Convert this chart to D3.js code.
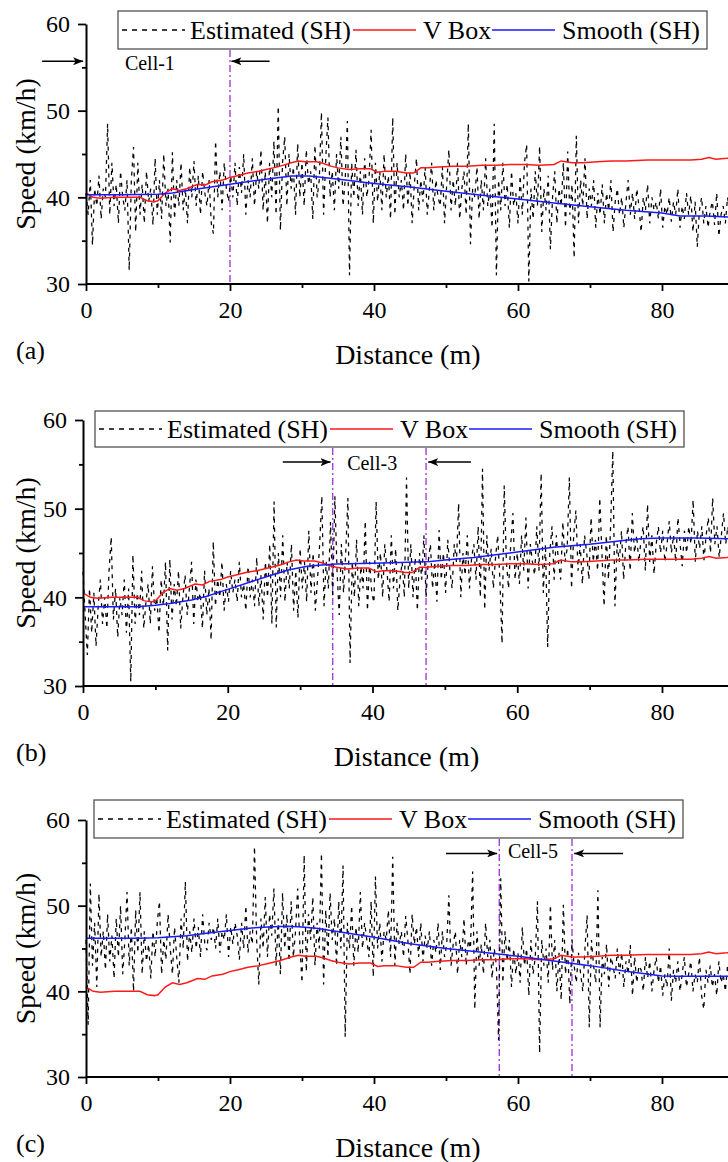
<!DOCTYPE html>
<html><head><meta charset="utf-8">
<script src="https://cdn.jsdelivr.net/npm/d3@7"></script>
<style>
body{margin:0;background:#fff}
svg{display:block}
text{font-family:"Liberation Serif","Times New Roman",serif;fill:#000}
</style>
</head><body>
<svg id="chart" width="728" height="1162"></svg>
<script>
// ---------------- DATA ----------------
const xTicks = [0, 20, 40, 60, 80];
const xMinorTicks = [10, 30, 50, 70, 90];
const yTicks = [30, 40, 50, 60];
const yMinorTicks = [35, 45, 55];
const legendLabels = ["Estimated (SH)", "V Box", "Smooth (SH)"];
const panelLabels = ["(a)", "(b)", "(c)"];
const cellLabels = ["Cell-1", "Cell-3", "Cell-5"];
const xTitle = "Distance (m)";
const yTitle = "Speed (km/h)";

// Estimated (SH) speed samples, every 0.3 m
const estStep = 0.3;
const estimatedA = [
40.5,38,42,34.5,41,39,42.5,37.5,41,40,
48.5,38,44,39,41.5,37,43,40,38.5,42,
31.6,42,45.8,36,44,38,41.5,37,43,39.5,
41,36.8,44.5,38,42,37.5,45,39,41,34.8,
45.2,37.5,42,39,44,38.5,41,37,43.5,40,
44.2,39,42.5,38,43,40.5,39,42,37,35.8,
46.5,40,43,38.5,44,41,39.5,42.5,40,44,
39,43.5,40.5,45,38,42,40,44.5,39,43,
41,45.5,38.5,43,37,44,40,46.5,38,50.5,
36.2,44,47,39,45,41,43.5,38,46.2,40,
44,39,45.5,41.5,43,37.5,46,40,42,49.8,
38,44.5,49.2,40,43,38.5,45,41,47,39,
42,48.8,31.0,44,40,45.5,39,43,38,44.5,
40,42,47.8,37,44,39.5,43,38.5,45,40,
42.5,37.5,49.2,38,44,40,42,38.5,45,39,
43,37,41.5,44.5,38.5,42,39.5,43.5,38,41,
44,38.5,42,40,39,43.5,37,41.5,45.5,38.5,
42,39,44,37.5,41,43,38,48.5,34.6,41,
40,43.5,37.5,42,38.5,44.5,39,41,36.5,48.5,
31,42,38.5,44,39,41.5,36.5,43,39,40.5,
37,42.5,38,44,46.1,30.3,41,37.5,43,39,
45.9,36,41,38.5,42.5,34,40,43,37,41,
39,44,36.5,45.3,38,41.5,33,47.1,37,42,
39,44.5,37.5,41,39,42,36.5,40.5,38,41.5,
37,40.5,38.5,42,36,39.5,41,38,40,36.5,
39.5,42,38,40.5,37.5,41,39,36,40,38.5,
41.5,37,40,38.5,39.5,37.5,41,36.5,39,38,
40,37.2,39.5,38,41,36.5,39,37.5,40.5,38,
40.2,36,39.5,34.3,38.5,40,37,39,36.5,38.5,
39.5,36.8,40.5,35.5,38,39,37,40,38.5,37
];
const estimatedB = [
42.9,38,33.5,41,36,40.5,34.5,39,42,37,
40,36.5,43,46.8,37.5,41,35.5,40,38,42,
36,41,30.5,44.8,37,40.5,38,43,36.5,39.5,
41.5,37,43.5,38.5,40,36,42,39,44,34,
44.3,37.5,41.5,39,43,36.5,40,42.5,38,41,
44,37,42,39.5,40.5,36.5,43,38,41,35.2,
46.3,39,42,40,44,38.5,41.5,39.5,43,40.5,
42,39.5,44,40,41.5,38.5,43.5,40,42,39,
44.5,39,42.5,37.5,44,40,46,37,50.8,36.6,
45,40,47,39.5,44,41,46,38.5,43,37.7,
45.5,41,44,39.5,47.5,40.5,45,38.5,42,46,
51.4,39,44,41,48.5,40,51.4,43,38,46,
40.5,45,51.2,32.6,44,40,46.5,39,43.5,41,
48.6,38.5,44,40.5,39.4,50.8,42,45,40,46,
43,39.5,47,41,45.5,38.5,42,44,40,53.5,
41,46,40,44.5,38.5,45,42,47,40,44,
46,41,44,39.5,47.6,42,45,40.5,46.5,43,
41,46,44,50.6,40,45,42.5,47,41,44.5,
46,42,48,40,54.5,38.6,47,43,45.5,41,
44.5,47,42,34.8,52.6,44,41,46,49.5,42,
45,41.5,47,43,49,41,46,44,42.5,48,
43,54,40.5,46,34.4,45,48,42,47,44,
42,48.5,44,45.5,53.5,41,47,49.8,43,46,
41.5,47,45,42,49,44,46.5,43,51.2,45,
39,47,42,48,56.5,39,46,44,47.5,42,
46,48,43,49.5,45,47,44,46.5,48,43,
50.5,44,47,42.6,46,48,45,47.5,44,46,
48.6,45,47,44,49,46,43.5,47.5,45,48,
46,51,44,47.5,45.5,48,44.2,47,49,45,
51.2,46,48,44.5,47,49.5,46,48,45.5,47.5
];
const estimatedC = [
46,36.1,52.6,43,48,40.5,51.4,44,47,42.5,
49,43.5,46.5,41.5,48.5,44,50,42,46,51.6,
43,47.5,40,49.5,44.5,51.6,42,47,43.5,45.5,
41.5,47,44,48,50.5,42,46,43.7,49,45,
42,47.5,44,41,48.5,45,52.8,43.5,47,44.5,
48.5,45,47.5,44,49,45.5,44.8,48,46,47.5,
45,48.5,44.5,47,46,49,44,47.5,45.5,48,
46.5,43.7,48,45,50,44.5,47,45.5,56.9,46,
40.8,48.5,45,51,44,49,46.5,52,43,48.5,
42,51.5,45,49,43.5,50.5,44,47,52,45.5,
41,55.9,42.3,49,46,51,43,48,45,56.1,
40.8,49.5,44,51.5,46,48.5,43,50.5,45,54.7,
34.7,48,45,50,43,47.5,44.5,51.6,45,48,
46,44,50.5,41.7,53.4,45,48,43.5,47,46,
49.5,44,55.7,43,48,45.5,47,44,48.8,46,
42,49,45.5,47.5,44,48,43.5,46.5,45,47,
43,46,44.5,48,42.5,47,44,45.5,51.2,43,
45.5,47,42,46,44,48.5,43,46,45,54,
37.9,47,43,45.5,42,48,44,46,41.5,45,
43,34.3,53.2,41,47,43.5,46,40.5,45,42,
44.5,41,47.5,43,45,39.5,46,42,44,50.5,
32.8,46,43,45,41,50.1,42.5,46,40,44.5,
39,50.1,42,45,38.5,46,43,41,44.5,42,
40,45,48.9,35.8,46,43,41,51.8,35.8,44,
42,45.5,40.5,44,43,41.5,45,42,44.5,40.5,
43.5,42,45.4,39.5,44,41,43,42.5,40,44,
41.5,43.5,40,42.5,44,41,43,39.5,42,40.5,
45,38.9,42.5,41,43.5,40,42,44,40.5,42,
43.5,40,42,41,44,39.5,37.9,42.5,41,43,
40.5,42,39.5,43.5,41,42,40,43,41.5,40
];

// V Box reference (same run in every panel)
const vboxDist = [0,1,2,4,6,7.5,8.5,9.5,10,11,12,13,14,15.5,16.5,17.5,19,20,21,22.5,24,25,26,27,28.5,29.5,30.5,32,33,34,35,36.5,38,39.5,40.5,41.5,43,44.5,45.5,46.5,47.5,49,51,53,55,57,59,61,63,65,66,67.5,69,71,73,75,78,80,82,84,85.5,86.5,87.5,89,90];
const vboxSpeed = [40.5,40.0,39.9,40.0,40.0,40.0,39.6,39.5,39.6,40.5,41.0,40.8,41.0,41.5,41.4,41.8,42.0,42.3,42.5,42.8,43.0,43.2,43.4,43.6,44.0,44.2,44.1,44.1,43.9,43.6,43.4,43.2,43.3,43.3,42.9,43.0,43.0,42.8,42.8,43.4,43.4,43.5,43.6,43.6,43.7,43.7,43.8,43.8,43.7,43.8,44.2,44.0,44.0,44.1,44.2,44.2,44.3,44.3,44.3,44.3,44.4,44.6,44.4,44.5,44.6];

// Smooth (SH)
const smoothDistA = [0,5,10,12,15,20,25,28.5,31,33,36,40,45,50,55,60,65,70,75,80,82.5,86,90];
const smoothA = [40.3,40.3,40.35,40.5,40.9,41.5,42.1,42.45,42.45,42.3,42.0,41.6,41.2,40.7,40.25,39.8,39.35,38.9,38.5,38.2,37.85,37.85,37.7];
const smoothDistB = [0,5,7.5,10,12,15,17,20,23,26,28.5,31,33,35,40,45,48,50,54,57,60,65,70,75,77,80,85,90];
const smoothB = [38.95,38.95,38.95,39.1,39.3,39.7,40.1,40.9,41.7,42.5,43.1,43.5,43.65,43.75,43.85,43.95,44.05,44.2,44.5,44.8,45.1,45.65,46.0,46.45,46.6,46.7,46.7,46.6];
const smoothDistC = [0,7,10,14,17,20,23,26,28,30,32,34,36,40,45,50,55,60,65,70,75,80,82,90];
const smoothC = [46.2,46.2,46.25,46.5,46.8,47.1,47.4,47.55,47.6,47.5,47.35,47.1,46.85,46.3,45.55,45.0,44.55,44.1,43.55,43.0,42.35,41.8,41.75,41.75];

// cell boundaries (m)
const cellLinesA = [20];
const cellLinesB = [34.5, 47.4];
const cellLinesC = [57.4, 67.5];

// ---------------- LAYOUT ----------------
const panels = [
  {est: estimatedA, sd: smoothDistA, sv: smoothA, cells: cellLinesA, label: panelLabels[0], cell: cellLabels[0],
   x0: 86, x80: 662, yTop: 24, yBot: 284, lg: [118, 11, 38],
   arrows: [[-6.1, -0.4], [25.5, 20.2]], arrowY: 55.7, cellTextX: 5.4, cellTextY: 54.7},
  {est: estimatedB, sd: smoothDistB, sv: smoothB, cells: cellLinesB, label: panelLabels[1], cell: cellLabels[1],
   x0: 83, x80: 662, yTop: 420, yBot: 686, lg: [95, 411, 36],
   arrows: [[27.6, 34.2], [53.6, 47.7]], arrowY: 55.25, cellTextX: 36.5, cellTextY: 54.35},
  {est: estimatedC, sd: smoothDistC, sv: smoothC, cells: cellLinesC, label: panelLabels[2], cell: cellLabels[2],
   x0: 86, x80: 662, yTop: 820, yBot: 1077, lg: [94, 800, 38],
   arrows: [[50.0, 57.1], [74.6, 67.8]], arrowY: 56.1, cellTextX: 58.6, cellTextY: 55.55}
];

const svg = d3.select("#chart");
const defs = svg.append("defs");
defs.append("marker").attr("id", "arrow").attr("markerUnits", "userSpaceOnUse")
  .attr("markerWidth", 11).attr("markerHeight", 8).attr("refX", 10).attr("refY", 4)
  .attr("orient", "auto")
  .append("path").attr("d", "M0,0 L10,4 L0,8 L2.5,4 Z").attr("fill", "#000");

const RED = "#ff1a1a", BLUE = "#1a1aff", VIOLET = "#a43fe0";

panels.forEach((p, pi) => {
  const x = d3.scaleLinear().domain([0, 80]).range([p.x0, p.x80]);
  const y = d3.scaleLinear().domain([30, 60]).range([p.yBot, p.yTop]);
  const g = svg.append("g");

  // cell boundary lines
  const lgBottom = p.lg[1] + p.lg[2];
  g.selectAll(".cellline").data(p.cells).enter().append("line")
    .attr("x1", d => x(d)).attr("x2", d => x(d))
    .attr("y1", lgBottom + 1).attr("y2", p.yBot)
    .attr("stroke", VIOLET).attr("stroke-width", 1.4)
    .attr("stroke-dasharray", "7,3,2,3");

  // estimated dashed
  const estLine = d3.line().x((d, i) => x(i * estStep)).y(d => y(d));
  g.append("path").datum(p.est).attr("d", estLine)
    .attr("fill", "none").attr("stroke", "#000").attr("stroke-width", 1.25)
    .attr("stroke-dasharray", "4,5");

  // V Box
  const vLine = d3.line().x((d, i) => x(vboxDist[i])).y(d => y(d));
  g.append("path").datum(vboxSpeed).attr("d", vLine)
    .attr("fill", "none").attr("stroke", RED).attr("stroke-width", 1.5);

  // Smooth
  const sLine = d3.line().x((d, i) => x(p.sd[i])).y(d => y(d));
  g.append("path").datum(p.sv).attr("d", sLine)
    .attr("fill", "none").attr("stroke", BLUE).attr("stroke-width", 1.5);

  // axes
  const xAxis = g.append("g").attr("transform", `translate(0,${p.yBot})`)
    .call(d3.axisBottom(x).tickValues(xTicks).tickSize(7).tickPadding(10).tickSizeOuter(0).tickFormat(d3.format("d")));
  xAxis.select(".domain").attr("d", `M${p.x0},0H740`);
  g.append("g").attr("transform", `translate(0,${p.yBot})`)
    .call(d3.axisBottom(x).tickValues(xMinorTicks).tickSize(4).tickFormat("").tickSizeOuter(0))
    .select(".domain").remove();
  g.append("g").attr("transform", `translate(${p.x0},0)`)
    .call(d3.axisLeft(y).tickValues(yTicks).tickSize(8).tickPadding(8).tickSizeOuter(0));
  g.append("g").attr("transform", `translate(${p.x0},0)`)
    .call(d3.axisLeft(y).tickValues(yMinorTicks).tickSize(4).tickFormat("").tickSizeOuter(0))
    .select(".domain").remove();
  g.selectAll(".domain").attr("stroke", "#000").attr("stroke-width", 2);
  g.selectAll(".tick line").attr("stroke", "#000").attr("stroke-width", 1.8);
  g.selectAll(".tick text").attr("font-size", 24).attr("fill", "#000");

  // titles
  g.append("text").attr("x", x(44.7)).attr("y", p.yBot + 80).attr("text-anchor", "middle")
    .attr("font-size", 28).text(xTitle);
  g.append("text").attr("transform", `translate(35,${(p.yTop + p.yBot) / 2}) rotate(-90)`)
    .attr("text-anchor", "middle").attr("font-size", 28).text(yTitle);
  g.append("text").attr("x", 16).attr("y", p.yBot + 75).attr("font-size", 26).text(p.label);

  // cell annotation
  p.arrows.forEach(a => {
    g.append("line").attr("x1", x(a[0])).attr("x2", x(a[1]))
      .attr("y1", y(p.arrowY)).attr("y2", y(p.arrowY))
      .attr("stroke", "#000").attr("stroke-width", 1.5).attr("marker-end", "url(#arrow)");
  });
  g.append("text").attr("x", x(p.cellTextX)).attr("y", y(p.cellTextY)).attr("font-size", 20).text(p.cell);

  // legend
  const [lx, ly, lh] = p.lg;
  const lgG = g.append("g");
  lgG.append("rect").attr("x", lx).attr("y", ly).attr("width", 589).attr("height", lh)
    .attr("fill", "#fff").attr("stroke", "#444").attr("stroke-width", 1.2);
  const ymid = ly + lh / 2;
  const samples = [[4, 67, "#000", "5,5"], [235, 298, RED, null], [374, 437, BLUE, null]];
  const textX = [72, 305, 444];
  legendLabels.forEach((lab, i) => {
    const s = samples[i];
    const ln = lgG.append("line").attr("x1", lx + s[0]).attr("x2", lx + s[1])
      .attr("y1", ymid).attr("y2", ymid).attr("stroke", s[2]).attr("stroke-width", 1.5);
    if (s[3]) ln.attr("stroke-dasharray", s[3]);
    lgG.append("text").attr("x", lx + textX[i]).attr("y", ymid + 9).attr("font-size", 26).text(lab);
  });
});
</script>
</body></html>
